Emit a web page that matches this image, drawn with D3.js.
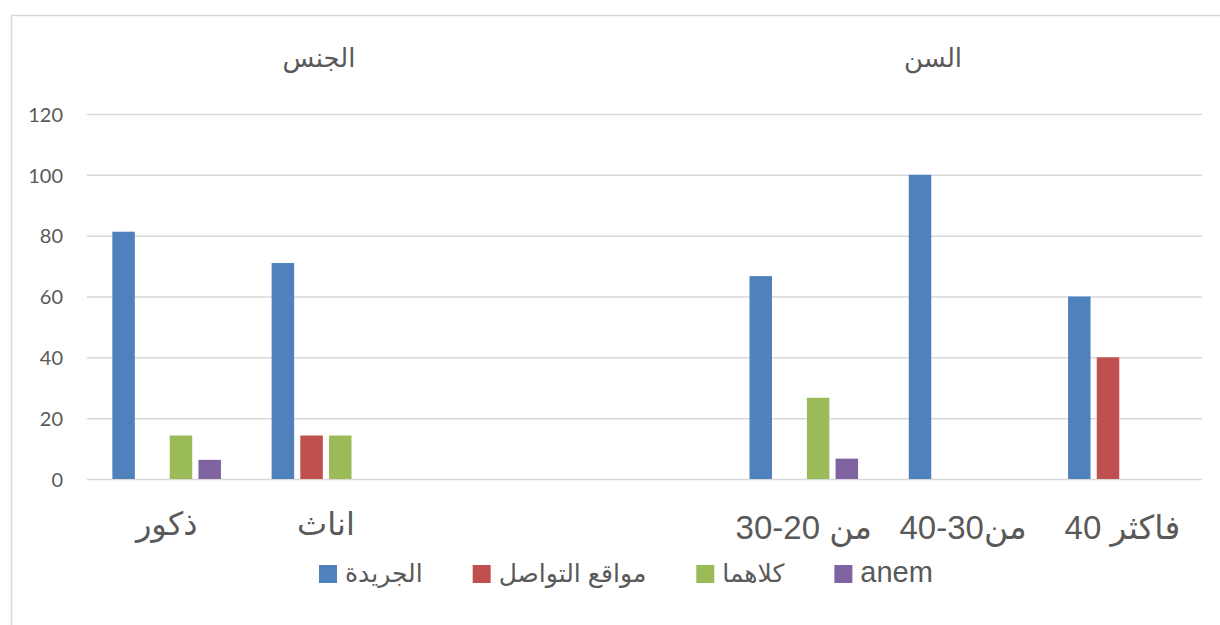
<!DOCTYPE html>
<meta charset="utf-8">
<style>
    body { margin: 0; background: #fff; }
    svg { display: block; }
    text { font-family: "Liberation Sans", "DejaVu Sans", sans-serif; fill: #595959; }
    .axis .domain { display: none; }
    .yaxis text { font-family: Lato, "Liberation Sans", sans-serif; font-size: 20px; }
    .yaxis line { stroke: #d9d9d9; stroke-width: 1.5px; }
</style>
<body>
<svg width="1220" height="625" id="chart"></svg>
<script src="https://d3js.org/d3.v7.min.js"></script>
<script>

    // categories (two empty slots split the groups)
    var categories = ["ذكور", "اناث", "", "", "من 20-30", "من30-40", "فاكثر 40"];
    var catGroup   = [0, 0, -1, -1, 1, 1, 1];
    var groupNames = ["الجنس", "السن"];

    var seriesNames = ["الجريدة", "مواقع التواصل", "كلاهما", "anem"];
    var newspaper = [81.3, 71.0, null, null, 66.7, 100, 60];
    var social    = [0, 14.3, null, null, 0, 0, 40];
    var both      = [14.3, 14.3, null, null, 26.7, 0, 0];
    var anem      = [6.3, 0, null, null, 6.7, 0, 0];
    var seriesValues = [newspaper, social, both, anem];

    var yTicks = [0, 20, 40, 60, 80, 100, 120];

    var colors = ["#4f81bd", "#c0504d", "#9bbb59", "#8064a2"];

    var isArabic = function(s) { return /[\u0600-\u06FF]/.test(s); };

    var svg = d3.select("svg"),
        plot = {left: 87, right: 1202, top: 114, bottom: 479};

    // chart frame (cut at right / bottom like the screenshot)
    svg.append("path")
        .attr("d", "M11.5,630V15.5H1225")
        .attr("fill", "none")
        .attr("stroke", "#d9d9d9")
        .attr("stroke-width", 1.5);

    var x0 = d3.scaleBand()
        .domain(d3.range(categories.length))
        .range([plot.left, plot.right]);

    var groupW = 108.6;
    var x1 = d3.scaleBand()
        .domain(d3.range(seriesNames.length))
        .range([0, groupW])
        .paddingInner(0.216);

    var y = d3.scaleLinear()
        .domain([0, 120])
        .range([plot.bottom, plot.top]);

    var z = d3.scaleOrdinal().domain(d3.range(seriesNames.length)).range(colors);

    // y axis + gridlines
    svg.append("g")
        .attr("class", "axis yaxis")
        .attr("transform", "translate(" + plot.left + ",0)")
        .call(d3.axisLeft(y).tickValues(yTicks).tickSize(-(plot.right - plot.left)).tickPadding(24))
        .selectAll("text").attr("dy", "0.36em");

    // bars
    svg.append("g")
        .selectAll("g")
        .data(seriesValues)
        .enter().append("g")
        .attr("fill", function(d, i) { return z(i); })
        .selectAll("rect")
        .data(function(d, si) {
            return d.map(function(v, ci) { return {s: si, c: ci, v: v}; })
                    .filter(function(e) { return e.v != null && e.v > 0; });
        })
        .enter().append("rect")
        .attr("x", function(d) { return x0(d.c) + x0.bandwidth() / 2 - groupW / 2 + x1(d.s); })
        .attr("y", function(d) { return y(d.v); })
        .attr("width", x1.bandwidth())
        .attr("height", function(d) { return y(0) - y(d.v); });

    // category labels
    var xa = svg.append("g")
        .attr("class", "axis xaxis")
        .attr("transform", "translate(0," + plot.bottom + ")")
        .call(d3.axisBottom(x0).tickSize(0).tickFormat(function(i) { return categories[i]; }));

    xa.selectAll("text")
        .attr("dy", null)
        .attr("y", function(i) { return catGroup[i] === 1 ? 60 : 56; })
        .style("font-size", function(i) { return catGroup[i] === 1 ? "33px" : "32px"; })
        .attr("fill", "#595959");

    // group titles
    svg.append("text")
        .attr("x", 319).attr("y", 67)
        .attr("text-anchor", "middle")
        .style("font-size", "26px")
        .text(groupNames[0]);

    svg.append("text")
        .attr("x", 933).attr("y", 67)
        .attr("text-anchor", "middle")
        .style("font-size", "26px")
        .text(groupNames[1]);

    // legend
    var legend = svg.append("g").attr("transform", "translate(319,565)");
    var lx = 0;
    seriesNames.forEach(function(name, i) {
        legend.append("rect")
            .attr("x", lx).attr("y", 0)
            .attr("width", 18).attr("height", 18)
            .attr("fill", z(i));
        var t = legend.append("text")
            .attr("x", lx + 26).attr("y", 17)
            .style("font-size", isArabic(name) ? "25px" : "29px")
            .text(name);
        lx += 26 + t.node().getComputedTextLength() + 50;
    });

</script>
</body>
